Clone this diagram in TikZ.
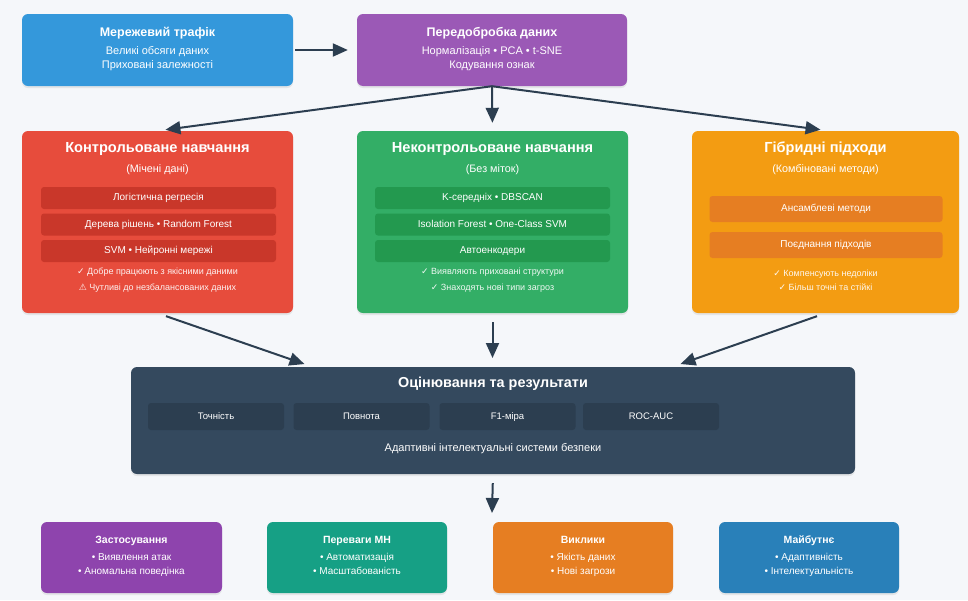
\documentclass[tikz,border=0pt]{standalone}
\usepackage{fontspec}
\setmainfont{Liberation Sans}
\newfontfamily\symfont{DejaVu Sans}
\usetikzlibrary{arrows.meta}
\usetikzlibrary{shadows}
\definecolor{pagebg}{HTML}{F5F7FA}
\definecolor{arrowc}{HTML}{2C3E50}
\definecolor{topblue}{HTML}{3498DB}
\definecolor{toppurple}{HTML}{9B59B6}
\definecolor{supred}{HTML}{E74C3C}
\definecolor{supbar}{HTML}{C9372A}
\definecolor{unsgreen}{HTML}{33AE66}
\definecolor{unsbar}{HTML}{23994F}
\definecolor{hyborange}{HTML}{F39C12}
\definecolor{hybbar}{HTML}{E67E22}
\definecolor{evalbg}{HTML}{34495E}
\definecolor{evalbar}{HTML}{2C3E50}
\definecolor{bpurple}{HTML}{8E44AD}
\definecolor{bteal}{HTML}{16A085}
\definecolor{borange}{HTML}{E67E22}
\definecolor{bblue}{HTML}{2980B9}
\newcommand\fsz[1]{\fontsize{#1}{#1}\selectfont}

\begin{document}
\begin{tikzpicture}[x=1pt,y=-1pt,
    box/.style={rounded corners=6pt, inner sep=0pt,
      drop shadow={opacity=0.15, shadow xshift=0pt, shadow yshift=-2pt}},
    lbl/.style={text=white, text height=0.72em, text depth=0.22em},
    bar/.style={lbl, rounded corners=3pt, inner sep=0pt, minimum width=235, minimum height=22,
      font=\fsz{10}},
    mbar/.style={lbl, rounded corners=3pt, inner sep=0pt, fill=evalbar, minimum width=136,
      minimum height=27, font=\fsz{9.5}},
    ttl/.style={lbl, font=\bfseries\fsz{12.5}},
    bigttl/.style={lbl, font=\bfseries\fsz{14.6}},
    txt/.style={lbl, font=\fsz{11}},
    sub/.style={lbl, font=\fsz{10.8}},
    chk/.style={lbl, text opacity=0.92, font=\fsz{9}},
    smallttl/.style={lbl, font=\bfseries\fsz{10.5}},
    smalltxt/.style={lbl, font=\fsz{10}},
    arr/.style={draw=arrowc, line width=2pt, -{Triangle[length=15pt,width=13pt]}}
  ]
  \fill[pagebg] (0,0) rectangle (968,600);
  \useasboundingbox (0,0) rectangle (968,600);

  % top row
  \node[box, fill=topblue, minimum width=271, minimum height=72] (traffic) at (157.5,50) {};
  \node[ttl] (trafficT) at (157.5,34) {Мережевий трафік};
  \node[txt] (trafficA) at (157.5,52) {Великі обсяги даних};
  \node[txt] (trafficB) at (157.5,66) {Приховані залежності};

  \node[box, fill=toppurple, minimum width=270, minimum height=72] (prep) at (492,50) {};
  \node[ttl] (prepT) at (492,34) {Передобробка даних};
  \node[txt] (prepA) at (492,52) {Нормалізація • PCA • t-SNE};
  \node[txt] (prepB) at (492,66) {Кодування ознак};

  % three approaches
  \node[box, fill=supred, minimum width=271, minimum height=182] (sup) at (157.5,222) {};
  \node[bigttl] (supT) at (157.5,150) {Контрольоване навчання};
  \node[sub] (supS) at (157.5,170) {(Мічені дані)};
  \node[bar, fill=supbar] (supA) at (158.5,198) {Логістична регресія};
  \node[bar, fill=supbar] (supB) at (158.5,224.5) {Дерева рішень • Random Forest};
  \node[bar, fill=supbar] (supC) at (158.5,251) {SVM • Нейронні мережі};
  \node[chk] (supP) at (157.5,272) {{\symfont ✓} Добре працюють з якісними даними};
  \node[chk] (supM) at (157.5,288) {{\symfont ⚠} Чутливі до незбалансованих даних};

  \node[box, fill=unsgreen, minimum width=271, minimum height=182] (uns) at (492.5,222) {};
  \node[bigttl] (unsT) at (492.5,150) {Неконтрольоване навчання};
  \node[sub] (unsS) at (492.5,170) {(Без міток)};
  \node[bar, fill=unsbar] (unsA) at (492.5,198) {K-середніх • DBSCAN};
  \node[bar, fill=unsbar] (unsB) at (492.5,224.5) {Isolation Forest • One-Class SVM};
  \node[bar, fill=unsbar] (unsC) at (492.5,251) {Автоенкодери};
  \node[chk] (unsP) at (492.5,272) {{\symfont ✓} Виявляють приховані структури};
  \node[chk] (unsQ) at (492.5,288) {{\symfont ✓} Знаходять нові типи загроз};

  \node[box, fill=hyborange, minimum width=267, minimum height=182] (hyb) at (825.5,222) {};
  \node[bigttl] (hybT) at (825.5,150) {Гібридні підходи};
  \node[sub] (hybS) at (825.5,170) {(Комбіновані методи)};
  \node[bar, fill=hybbar, minimum width=233, minimum height=26] (hybA) at (826,209) {Ансамблеві методи};
  \node[bar, fill=hybbar, minimum width=233, minimum height=26] (hybB) at (826,245) {Поєднання підходів};
  \node[chk] (hybP) at (825.5,274) {{\symfont ✓} Компенсують недоліки};
  \node[chk] (hybQ) at (825.5,288) {{\symfont ✓} Більш точні та стійкі};

  % evaluation
  \node[box, fill=evalbg, minimum width=724, minimum height=107] (eval) at (493,420.5) {};
  \node[lbl, font=\bfseries\fsz{14.4}] (evalT) at (493,385) {Оцінювання та результати};
  \node[mbar] (mAcc) at (216,416.5) {Точність};
  \node[mbar] (mRec) at (361.5,416.5) {Повнота};
  \node[mbar] (mF1) at (507.5,416.5) {F1-міра};
  \node[mbar] (mRoc) at (651,416.5) {ROC-AUC};
  \node[lbl, font=\fsz{11}] (evalS) at (493,449) {Адаптивні інтелектуальні системи безпеки};
  \coordinate (evalL) at (313,367);
  \coordinate (evalR) at (672,367);
  \coordinate (outP) at (492,513);

  % bottom row
  \node[box, fill=bpurple, minimum width=181, minimum height=71] (app) at (131.5,557.5) {};
  \node[smallttl] (appT) at (131.5,541) {Застосування};
  \node[smalltxt] (appA) at (131.5,558) {• Виявлення атак};
  \node[smalltxt] (appB) at (131.5,572) {• Аномальна поведінка};

  \node[box, fill=bteal, minimum width=180, minimum height=71] (adv) at (357,557.5) {};
  \node[smallttl] (advT) at (357,541) {Переваги МН};
  \node[smalltxt] (advA) at (357,558) {• Автоматизація};
  \node[smalltxt] (advB) at (357,572) {• Масштабованість};

  \node[box, fill=borange, minimum width=180, minimum height=71] (chal) at (583,557.5) {};
  \node[smallttl] (chalT) at (583,541) {Виклики};
  \node[smalltxt] (chalA) at (583,558) {• Якість даних};
  \node[smalltxt] (chalB) at (583,572) {• Нові загрози};

  \node[box, fill=bblue, minimum width=180, minimum height=71] (fut) at (809,557.5) {};
  \node[smallttl] (futT) at (809,541) {Майбутнє};
  \node[smalltxt] (futA) at (809,558) {• Адаптивність};
  \node[smalltxt] (futB) at (809,572) {• Інтелектуальність};

  % connectors
  \draw[arr, shorten <=2pt, shorten >=9pt] (traffic.east) -- (prep.west);
  \draw[arr, shorten <=0pt, shorten >=8pt] (prep.south) -- (sup.north);
  \draw[arr, shorten <=0pt, shorten >=8pt] (prep.south) -- (uns.north);
  \draw[arr, shorten <=0pt, shorten >=8pt] (prep.south) -- ([xshift=3pt]hyb.north);
  \draw[arr, shorten <=9pt, shorten >=9pt] (sup.south) -- (evalL);
  \draw[arr, shorten <=9pt, shorten >=9pt] (uns.south) -- (evalL -| uns.south);
  \draw[arr, shorten <=9pt, shorten >=9pt] (hyb.south) -- (evalR);
  \draw[arr, shorten <=9pt] (eval.south) -- (outP);
\end{tikzpicture}
\end{document}
